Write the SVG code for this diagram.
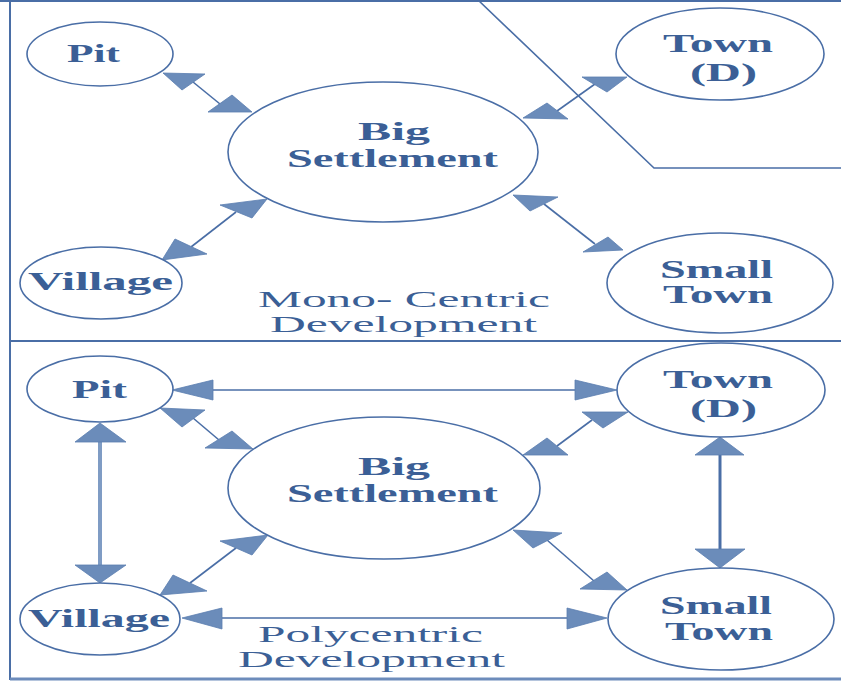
<svg xmlns="http://www.w3.org/2000/svg" width="841" height="682" viewBox="0 0 841 682">
<style>
.frame{stroke:#4a6ea6;stroke-width:2;fill:none}
.node{fill:#fff;stroke:#4a6ea6;stroke-width:1.6}
.lbl{font-family:"Liberation Serif",serif;font-weight:bold;font-size:25px;fill:#3b5f96}
.cap{font-family:"Liberation Serif",serif;font-size:24px;fill:#3b5f96}
.ln{stroke:#4a6ea6;stroke-width:1.6;fill:none}
.hd{fill:#6b8cba;stroke:#5a7db0;stroke-width:0.8}
</style>
<rect width="841" height="682" fill="#fff"/>
<g id="frame">
<line class="frame" x1="0" y1="1" x2="841" y2="1"/>
<line class="frame" x1="10" y1="0" x2="10" y2="680"/>
<line class="frame" x1="10" y1="341" x2="841" y2="341"/>
<line x1="10" y1="679" x2="841" y2="679" stroke="#6d8cbb" stroke-width="3"/>
<polyline class="ln" points="478,0 654,168 841,168"/>
</g>
<g id="connectors">
<!-- top panel -->
<line class="ln" x1="193" y1="82" x2="220" y2="104"/>
<polygon class="hd" points="163,73 205,74 182,90"/>
<polygon class="hd" points="252,112 208,112 232,95"/>
<line class="ln" x1="236" y1="212" x2="191" y2="247"/>
<polygon class="hd" points="267,199 220,205 252,218"/>
<polygon class="hd" points="162,260 175,239 207,254"/>
<line class="ln" x1="595" y1="84" x2="557" y2="111"/>
<polygon class="hd" points="627,77 582,77 607,92"/>
<polygon class="hd" points="523,118 547,103 568,119"/>
<line class="ln" x1="544" y1="204" x2="595" y2="244"/>
<polygon class="hd" points="513,195 558,197 530,211"/>
<polygon class="hd" points="623,250 583,252 608,237"/>
<!-- bottom panel -->
<line class="ln" x1="213" y1="390" x2="575" y2="390"/>
<polygon class="hd" points="172,390 213,380 213,400"/>
<polygon class="hd" points="617,390 575,380 575,400"/>
<line class="ln" x1="193" y1="418" x2="219" y2="440"/>
<polygon class="hd" points="160,408 205,410 182,427"/>
<polygon class="hd" points="253,449 205,448 232,431"/>
<line class="ln" x1="592" y1="420" x2="557" y2="446"/>
<polygon class="hd" points="628,412 582,412 603,428"/>
<polygon class="hd" points="523,455 547,438 568,455"/>
<line class="ln" x1="236" y1="548" x2="190" y2="583"/>
<polygon class="hd" points="268,535 220,541 252,555"/>
<polygon class="hd" points="160,595 173,575 207,591"/>
<line class="ln" x1="547" y1="540" x2="594" y2="581"/>
<polygon class="hd" points="513,530 562,533 533,548"/>
<polygon class="hd" points="627,590 580,589 607,572"/>
<line class="ln" x1="222" y1="618" x2="567" y2="618"/>
<polygon class="hd" points="182,618 222,608 222,629"/>
<polygon class="hd" points="607,618 567,608 567,629"/>
<line x1="100" y1="442" x2="100" y2="565" stroke="#7f9cc4" stroke-width="4"/>
<polygon class="hd" points="100,423 75,442 126,442"/>
<polygon class="hd" points="100,583 75,565 126,565"/>
<line x1="720" y1="455" x2="720" y2="549" stroke="#4a6ea6" stroke-width="3"/>
<polygon class="hd" points="720,437 695,455 744,455"/>
<polygon class="hd" points="720,568 695,549 745,549"/>
</g>
<g id="top-pit"><ellipse class="node" cx="100" cy="54" rx="73" ry="32"/><text class="lbl" x="67" y="62" textLength="53" lengthAdjust="spacingAndGlyphs">Pit</text></g>
<g id="top-big"><ellipse class="node" cx="383" cy="152" rx="155" ry="70"/><text class="lbl" x="358" y="140" textLength="72" lengthAdjust="spacingAndGlyphs">Big</text><text class="lbl" x="287" y="167" textLength="211" lengthAdjust="spacingAndGlyphs">Settlement</text></g>
<g id="top-town"><ellipse class="node" cx="720" cy="54" rx="104" ry="46"/><text class="lbl" x="663" y="52" textLength="110" lengthAdjust="spacingAndGlyphs">Town</text><text class="lbl" x="690" y="81" textLength="67" lengthAdjust="spacingAndGlyphs">(D)</text></g>
<g id="top-village"><ellipse class="node" cx="101" cy="283" rx="81" ry="36"/><text class="lbl" x="28" y="290" textLength="145" lengthAdjust="spacingAndGlyphs">Village</text></g>
<g id="top-small"><ellipse class="node" cx="720" cy="283" rx="113" ry="50"/><text class="lbl" x="660" y="278" textLength="113" lengthAdjust="spacingAndGlyphs">Small</text><text class="lbl" x="663" y="303" textLength="110" lengthAdjust="spacingAndGlyphs">Town</text></g>
<g id="top-caption"><text class="cap" x="258" y="307" textLength="292" lengthAdjust="spacingAndGlyphs">Mono- Centric</text><text class="cap" x="270" y="332" textLength="267" lengthAdjust="spacingAndGlyphs">Development</text></g>
<g id="bot-pit"><ellipse class="node" cx="100" cy="389" rx="73" ry="33"/><text class="lbl" x="72" y="398" textLength="55" lengthAdjust="spacingAndGlyphs">Pit</text></g>
<g id="bot-big"><ellipse class="node" cx="384" cy="488" rx="156" ry="71"/><text class="lbl" x="358" y="475" textLength="72" lengthAdjust="spacingAndGlyphs">Big</text><text class="lbl" x="287" y="502" textLength="211" lengthAdjust="spacingAndGlyphs">Settlement</text></g>
<g id="bot-town"><ellipse class="node" cx="721" cy="390" rx="104" ry="47"/><text class="lbl" x="663" y="388" textLength="110" lengthAdjust="spacingAndGlyphs">Town</text><text class="lbl" x="690" y="417" textLength="67" lengthAdjust="spacingAndGlyphs">(D)</text></g>
<g id="bot-village"><ellipse class="node" cx="100" cy="619" rx="80" ry="36"/><text class="lbl" x="28" y="627" textLength="142" lengthAdjust="spacingAndGlyphs">Village</text></g>
<g id="bot-small"><ellipse class="node" cx="721" cy="619" rx="113" ry="51"/><text class="lbl" x="660" y="614" textLength="112" lengthAdjust="spacingAndGlyphs">Small</text><text class="lbl" x="665" y="640" textLength="108" lengthAdjust="spacingAndGlyphs">Town</text></g>
<g id="bot-caption"><text class="cap" x="258" y="642" textLength="225" lengthAdjust="spacingAndGlyphs">Polycentric</text><text class="cap" x="238" y="667" textLength="267" lengthAdjust="spacingAndGlyphs">Development</text></g>
</svg>
